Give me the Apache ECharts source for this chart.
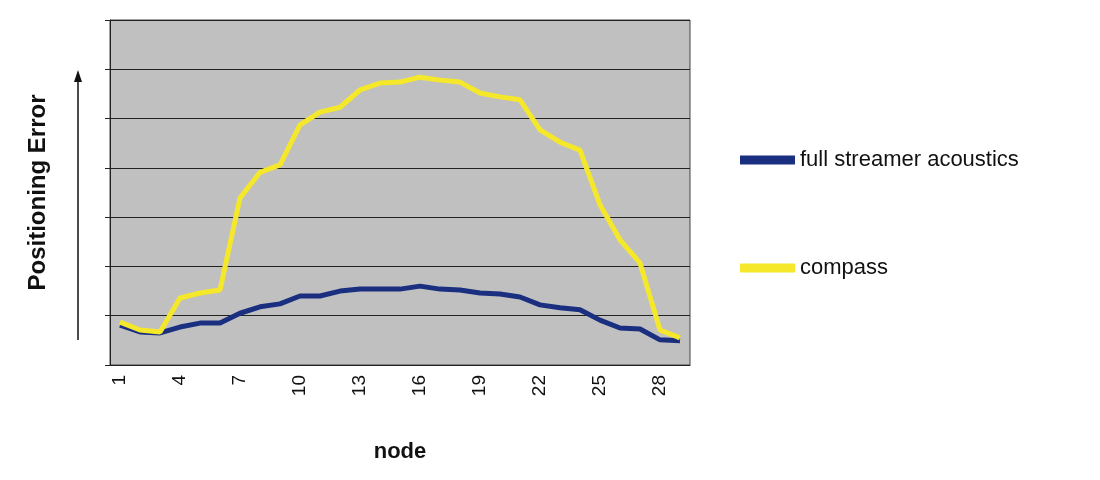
<!DOCTYPE html><html><head><meta charset="utf-8"><script src="https://cdn.jsdelivr.net/npm/echarts@6/dist/echarts.min.js"></script></head><body style="margin:0;background:#fff"><div id="c" style="width:1100px;height:480px"></div><script>
const nodes=[];for(let i=1;i<=29;i++)nodes.push(String(i));
const acoustics=[0.81,0.67,0.65,0.77,0.85,0.85,1.05,1.18,1.24,1.40,1.40,1.50,1.54,1.54,1.54,1.60,1.54,1.52,1.46,1.44,1.38,1.22,1.16,1.12,0.91,0.75,0.73,0.51,0.49];
const compass=[0.87,0.71,0.67,1.36,1.46,1.52,3.39,3.91,4.06,4.87,5.13,5.23,5.58,5.72,5.74,5.84,5.78,5.74,5.52,5.44,5.38,4.77,4.52,4.36,3.25,2.54,2.07,0.71,0.55];
const ch=echarts.init(document.getElementById('c'));
ch.setOption({
 animation:false,
 grid:{left:110,top:20,width:580,height:345,backgroundColor:'#c0c0c0',show:true,borderColor:'#444',borderWidth:1},
 legend:{orient:'vertical',left:735,top:144,itemGap:86,itemWidth:55,itemHeight:9,icon:'rect',
   textStyle:{fontFamily:'Liberation Sans',fontSize:22,color:'#111'},data:['full streamer acoustics','compass']},
 xAxis:{type:'category',data:nodes,boundaryGap:true,
   axisLine:{lineStyle:{color:'#222'}},axisTick:{interval:0,lineStyle:{color:'#222'}},
   axisLabel:{interval:2,rotate:90,fontSize:19,color:'#111',fontFamily:'Liberation Sans',margin:10},
   name:'node',nameLocation:'middle',nameGap:76,nameTextStyle:{fontSize:22,fontWeight:'bold',color:'#111',fontFamily:'Liberation Sans'}},
 yAxis:{type:'value',min:0,max:7,interval:1,axisLabel:{show:false},
   axisLine:{show:true,lineStyle:{color:'#222'}},axisTick:{show:true,lineStyle:{color:'#222'}},
   splitLine:{lineStyle:{color:'#222',width:1.2}},
   name:'Positioning Error',nameLocation:'middle',nameGap:60,nameTextStyle:{fontSize:24,fontWeight:'bold',color:'#111',fontFamily:'Liberation Sans'}},
 graphic:[{type:'line',shape:{x1:78,y1:340,x2:78,y2:80},style:{stroke:'#111',lineWidth:1.5}},
   {type:'polygon',shape:{points:[[74,82],[82,82],[78,70]]},style:{fill:'#111'}}],
 series:[
  {name:'full streamer acoustics',type:'line',data:acoustics,symbol:'none',lineStyle:{color:'#1a2f80',width:5},itemStyle:{color:'#1a2f80'}},
  {name:'compass',type:'line',data:compass,symbol:'none',lineStyle:{color:'#f5e82a',width:5},itemStyle:{color:'#f5e82a'}}
 ]
});
</script></body></html>
